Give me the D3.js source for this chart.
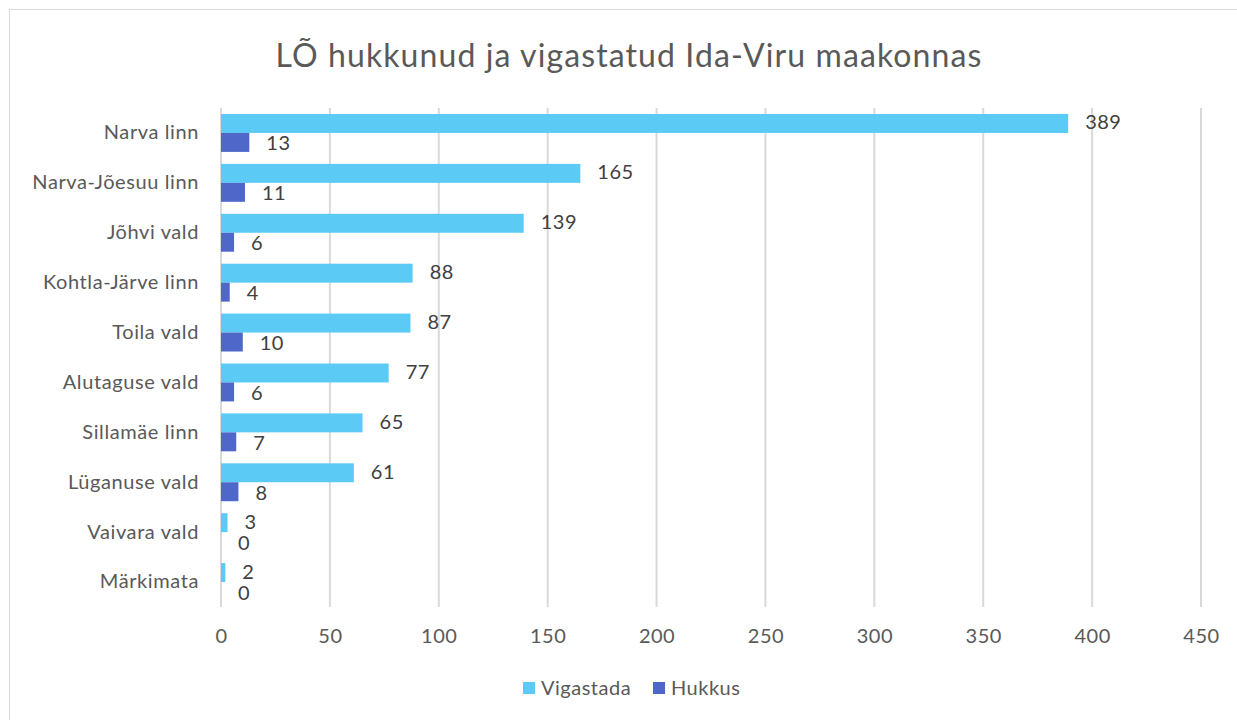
<!DOCTYPE html>
<html><head><meta charset="utf-8">
<script src="https://cdn.jsdelivr.net/npm/d3@7"></script>
<style>body{margin:0;background:#fff}svg{display:block}text{font-family:"Lato","Open Sans",sans-serif}</style>
</head><body>
<svg id="c" width="1237" height="720"></svg>
<script>
const categories = ["Narva linn","Narva-Jõesuu linn","Jõhvi vald","Kohtla-Järve linn","Toila vald","Alutaguse vald","Sillamäe linn","Lüganuse vald","Vaivara vald","Märkimata"];
const vigastada = [389,165,139,88,87,77,65,61,3,2];
const hukkus = [13,11,6,4,10,6,7,8,0,0];
const seriesNames = ["Vigastada","Hukkus"];
const seriesColors = ["#5BCBF5","#4F67C8"];
const xTicks = [0,50,100,150,200,250,300,350,400,450];
const title = "LÕ hukkunud ja vigastatud Ida-Viru maakonnas";

const svg = d3.select("#c");
svg.append("rect").attr("x",9.5).attr("y",9.5).attr("width",1240).attr("height",720).attr("fill","#fff").attr("stroke","#d9d9d9").attr("stroke-width",1);

const x = d3.scaleLinear().domain([0,450]).range([221,1201]);
const y = d3.scaleBand().domain(categories).range([108,607]).paddingInner(0.24).paddingOuter(0.12);
const ys = d3.scaleBand().domain(seriesNames).range([0,y.bandwidth()]);

// grid
svg.append("g").selectAll("line").data(xTicks).join("line")
  .attr("x1",d=>x(d)).attr("x2",d=>x(d)).attr("y1",108).attr("y2",607)
  .attr("stroke","#d9d9d9").attr("stroke-width",2);

// x axis labels
const xa = svg.append("g").attr("transform","translate(0,607)")
  .call(d3.axisBottom(x).tickValues(xTicks).tickSize(0).tickPadding(22));
xa.select(".domain").remove();
xa.selectAll("text").attr("font-size",20).attr("letter-spacing",0.5).attr("fill","#595959").style("font-family","Lato");

// y axis labels
const ya = svg.append("g").attr("transform","translate(221,0)")
  .call(d3.axisLeft(y).tickSize(0).tickPadding(22));
ya.select(".domain").remove();
ya.selectAll("text").attr("font-size",20).attr("letter-spacing",0.6).attr("fill","#595959").style("font-family","Lato");

const data = categories.map((c,i)=>({c, vals:[vigastada[i],hukkus[i]]}));
const g = svg.append("g").selectAll("g").data(data).join("g").attr("transform",d=>`translate(0,${y(d.c)})`);
g.selectAll("rect").data(d=>d.vals.map((v,j)=>({v,j}))).join("rect")
  .attr("x",x(0)).attr("y",d=>ys(seriesNames[d.j])).attr("width",d=>x(d.v)-x(0)).attr("height",ys.bandwidth())
  .attr("fill",d=>seriesColors[d.j]);
g.selectAll("text").data(d=>d.vals.map((v,j)=>({v,j}))).join("text")
  .attr("x",d=>x(d.v)+17).attr("y",d=>ys(seriesNames[d.j])+ys.bandwidth()/2+(d.j===0?6:8))
  .attr("font-size",20).attr("letter-spacing",0.5).attr("fill","#404040").text(d=>d.v);

svg.append("text").attr("x",629).attr("y",67).attr("text-anchor","middle").attr("font-size",32).attr("letter-spacing",1.1).attr("fill","#595959").text(title);

// legend
const lg = svg.append("g");
const lx = [523,653];
seriesNames.forEach((s,i)=>{
  lg.append("rect").attr("x",lx[i]).attr("y",682).attr("width",12).attr("height",12).attr("fill",seriesColors[i]);
  lg.append("text").attr("x",lx[i]+18).attr("y",695).attr("font-size",20).attr("letter-spacing",0.5).attr("fill","#595959").text(s);
});
</script>
</body></html>
